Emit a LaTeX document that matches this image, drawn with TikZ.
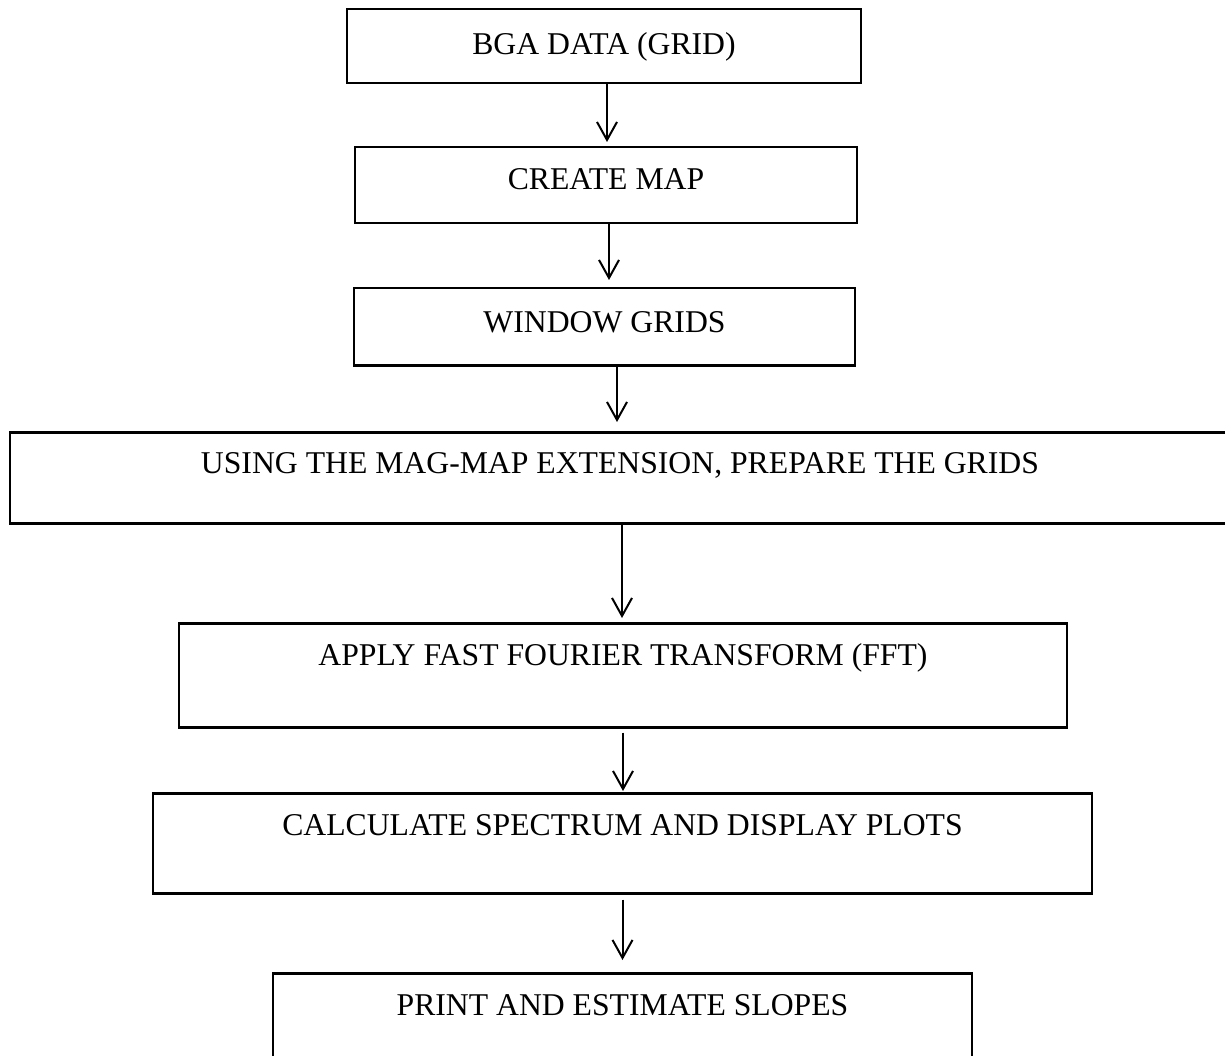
\documentclass[tikz,border=0pt]{standalone}
\usepackage{fontspec}
\setmainfont{Liberation Serif}
\usetikzlibrary{arrows.meta}
\tikzset{
    stepbox/.style={draw, line width=2.5pt, anchor=north, inner xsep=0pt, inner ysep=0pt,
        text height=42pt, font=\fontsize{31.7}{38}\selectfont},
    flow/.style={line width=2pt, ->}
}
\begin{document}
\begin{tikzpicture}[x=1pt, y=-1pt, >={Straight Barb[length=18pt, width=20pt]}]
    \useasboundingbox (0,0) rectangle (1225,1056);
    \node[stepbox, minimum width=514pt, text height=45pt, text depth=29pt] (bga) at (604,8) {BGA DATA (GRID)};
    \node[stepbox, minimum width=502pt, text depth=34pt] (map) at (606,146) {CREATE MAP};
    \node[stepbox, minimum width=501pt, text height=44pt, text depth=33pt] (window) at (604.5,287) {WINDOW GRIDS};
    \node[stepbox, minimum width=1220pt, text height=41pt, text depth=50pt] (prepare) at (620,431) {USING THE MAG-MAP EXTENSION, PREPARE THE GRIDS};
    \node[stepbox, minimum width=888pt, text depth=62pt] (fft) at (623,622) {APPLY FAST FOURIER TRANSFORM (FFT)};
    \node[stepbox, minimum width=939pt, text depth=58pt] (spectrum) at (622.5,792) {CALCULATE SPECTRUM AND DISPLAY PLOTS};
    \node[stepbox, minimum width=699pt, text depth=58pt] (slopes) at (622.5,972) {PRINT AND ESTIMATE SLOPES};
    % arrows between the steps
    \draw[flow] ([xshift=3pt]bga.south) -- ([xshift=1pt, yshift=4pt]map.north);
    \draw[flow] ([xshift=3pt]map.south) -- ([xshift=4.5pt, yshift=7pt]window.north);
    \draw[flow] ([xshift=12.5pt]window.south) -- ([xshift=-3pt, yshift=9pt]prepare.north);
    \draw[flow] ([xshift=2pt]prepare.south) -- ([xshift=-1pt, yshift=4pt]fft.north);
    \draw[flow] ([yshift=-4pt]fft.south) -- ([xshift=0.5pt, yshift=1pt]spectrum.north);
    \draw[flow] ([yshift=-5pt]spectrum.south) -- ([yshift=12pt]slopes.north);
\end{tikzpicture}
\end{document}
